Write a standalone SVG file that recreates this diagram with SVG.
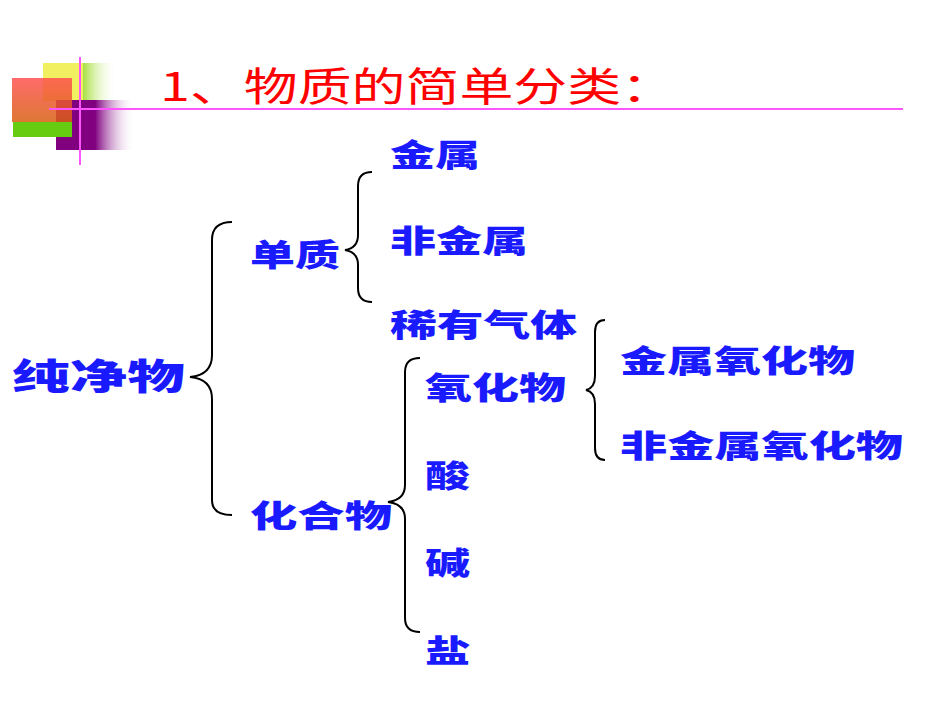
<svg xmlns="http://www.w3.org/2000/svg" width="950" height="713" viewBox="0 0 950 713">
<style>
.t{font-family:"Noto Sans CJK SC",sans-serif;font-weight:900;fill:#1a1aff;font-size:31px}
.b{fill:none;stroke:#000;stroke-width:2}
</style>
<defs>
<linearGradient id="g1"><stop offset="0" stop-color="#a8e040"/><stop offset="1" stop-color="#fff" stop-opacity="0"/></linearGradient>
<linearGradient id="g2"><stop offset="0" stop-color="#800080"/><stop offset="1" stop-color="#fff" stop-opacity="0"/></linearGradient>
<linearGradient id="g3" x1="0" y1="0" x2="0" y2="1"><stop offset="0" stop-color="#ff5050"/><stop offset="1" stop-color="#d86010"/></linearGradient>
</defs>
<rect width="950" height="713" fill="#fff"/>
<g id="deco">
<rect x="43" y="63" width="40" height="38" fill="#f0f060"/>
<rect x="83" y="63" width="34" height="38" fill="url(#g1)"/>
<rect x="56" y="100" width="40" height="50" fill="#800080"/>
<rect x="95" y="100" width="40" height="50" fill="url(#g2)"/>
<rect x="13" y="122" width="59" height="15" fill="#66cc11"/>
<rect x="12" y="78" width="60" height="44" fill="url(#g3)" opacity="0.85"/>
<line x1="80" y1="57" x2="80" y2="165" stroke="#ff55ff" stroke-width="2"/>
<line x1="49" y1="109" x2="903" y2="109" stroke="#ff55ff" stroke-width="2"/>
</g>
<text x="160" y="101" font-family="Noto Sans CJK SC,sans-serif" font-size="40" fill="#ff0000" textLength="515" lengthAdjust="spacingAndGlyphs">1、物质的简单分类：</text>
<g id="connectors">
<path class="b" d="M232 222 Q212 222 212 240 L212 355 Q212 375 190 377 Q212 379 212 399 L212 500 Q212 515 232 515"/>
<path class="b" d="M372 172 Q358 172 358 186 L358 235 Q358 248 345 250 Q358 252 358 265 L358 288 Q358 302 372 302"/>
<path class="b" d="M420 358 Q405 358 405 372 L405 485 Q405 500 388 502 Q405 504 405 519 L405 618 Q405 632 420 632"/>
<path class="b" d="M605 320 Q595 320 595 332 L595 376 Q595 388 586 390 Q595 392 595 404 L595 448 Q595 460 605 460"/>
</g>
<g id="n1"><text class="t" x="12" y="390" style="font-size:36px" textLength="173" lengthAdjust="spacingAndGlyphs">纯净物</text></g>
<g id="n2"><text class="t" x="250" y="266" textLength="90" lengthAdjust="spacingAndGlyphs">单质</text></g>
<g id="n3"><text class="t" x="250" y="527" textLength="142" lengthAdjust="spacingAndGlyphs">化合物</text></g>
<g id="n4"><text class="t" x="390" y="166" textLength="90" lengthAdjust="spacingAndGlyphs">金属</text></g>
<g id="n5"><text class="t" x="390" y="252" textLength="138" lengthAdjust="spacingAndGlyphs">非金属</text></g>
<g id="n6"><text class="t" x="390" y="336" textLength="187" lengthAdjust="spacingAndGlyphs">稀有气体</text></g>
<g id="n7"><text class="t" x="425" y="399" textLength="141" lengthAdjust="spacingAndGlyphs">氧化物</text></g>
<g id="n8"><text class="t" x="425" y="487" textLength="45" lengthAdjust="spacingAndGlyphs">酸</text></g>
<g id="n9"><text class="t" x="425" y="574" textLength="45" lengthAdjust="spacingAndGlyphs">碱</text></g>
<g id="n10"><text class="t" x="425" y="662" textLength="45" lengthAdjust="spacingAndGlyphs">盐</text></g>
<g id="n11"><text class="t" x="620" y="372" textLength="235" lengthAdjust="spacingAndGlyphs">金属氧化物</text></g>
<g id="n12"><text class="t" x="620" y="457" textLength="283" lengthAdjust="spacingAndGlyphs">非金属氧化物</text></g>
</svg>
